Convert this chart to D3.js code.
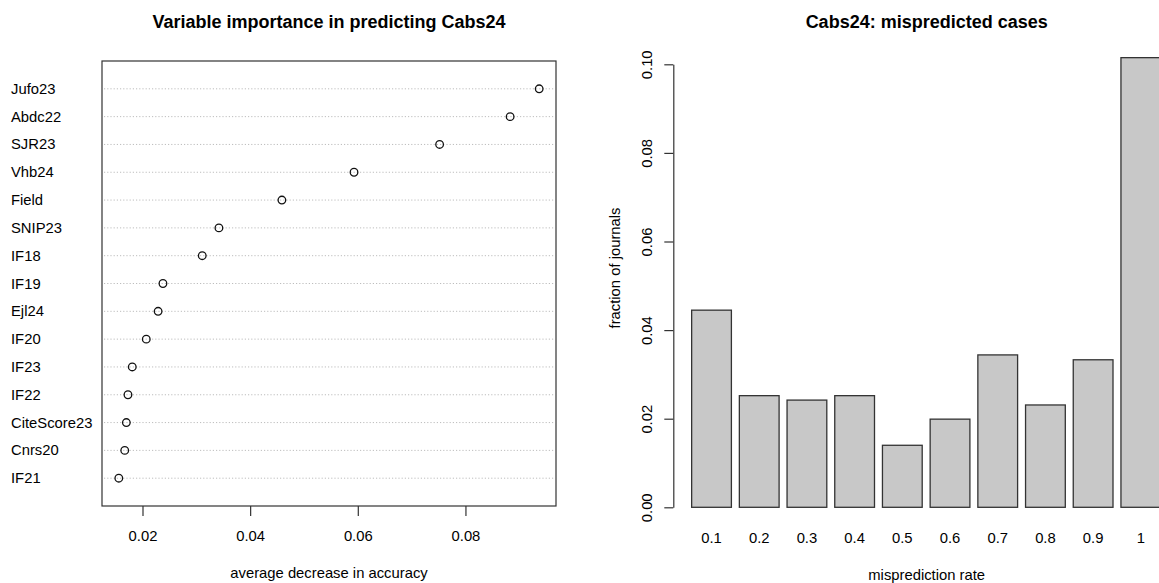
<!DOCTYPE html>
<html>
<head>
<meta charset="utf-8">
<script src="https://cdn.jsdelivr.net/npm/d3@7"></script>
<style>
  body { margin: 0; background: #fff; }
  svg { display: block; font-family: 'Liberation Sans', Arial, sans-serif; }
</style>
</head>
<body>
<div></div>
<script>
// left panel: variable importance
const variables = ['Jufo23', 'Abdc22', 'SJR23', 'Vhb24', 'Field', 'SNIP23', 'IF18', 'IF19',
  'Ejl24', 'IF20', 'IF23', 'IF22', 'CiteScore23', 'Cnrs20', 'IF21'];
const importance = [0.0937, 0.0883, 0.0752, 0.0593, 0.0459, 0.0342, 0.0311, 0.0238,
  0.0229, 0.0207, 0.0181, 0.0173, 0.0170, 0.0167, 0.0156];
const importanceTicks = [0.02, 0.04, 0.06, 0.08];

// right panel: mispredicted cases
const rates = ['0.1', '0.2', '0.3', '0.4', '0.5', '0.6', '0.7', '0.8', '0.9', '1'];
const fractions = [0.0445, 0.0252, 0.0242, 0.0252, 0.0140, 0.0199, 0.0344, 0.0231, 0.0333, 0.1015];
const fractionTicks = [0, 0.02, 0.04, 0.06, 0.08, 0.10];

const w = 1159;
const h = 583;
const fs = 14.8;

const svg = d3.select('body').select('div')
  .append('svg')
  .attr('width', w)
  .attr('height', h);

// ---- left: dotchart ----

const box = { left: 102, right: 556, top: 61, bottom: 506 };

const lo = d3.min(importance);
const hi = d3.max(importance);
const ext = (hi - lo) * 0.04;

const xL = d3.scaleLinear()
  .domain([lo - ext, hi + ext])
  .range([box.left, box.right]);

const yL = d3.scaleLinear()
  .domain([0, variables.length + 1])
  .range([box.bottom, box.top]);

const rowY = (i) => yL(variables.length - i);

svg.append('g')
  .selectAll('line')
  .data(variables)
  .enter()
  .append('line')
  .attr('x1', box.left + 2)
  .attr('x2', box.right - 2)
  .attr('y1', (d, i) => rowY(i))
  .attr('y2', (d, i) => rowY(i))
  .attr('stroke', '#bdbdbd')
  .attr('stroke-width', 1)
  .attr('stroke-dasharray', '1.2,2');

svg.append('rect')
  .attr('x', box.left)
  .attr('y', box.top)
  .attr('width', box.right - box.left)
  .attr('height', box.bottom - box.top)
  .attr('fill', 'none')
  .attr('stroke', '#333')
  .attr('stroke-width', 1.2);

svg.append('g')
  .selectAll('text')
  .data(variables)
  .enter()
  .append('text')
  .attr('x', 11)
  .attr('y', (d, i) => rowY(i) + 5)
  .attr('font-size', fs)
  .text((d) => d);

svg.append('g')
  .selectAll('circle')
  .data(importance)
  .enter()
  .append('circle')
  .attr('cx', (d) => xL(d))
  .attr('cy', (d, i) => rowY(i))
  .attr('r', 3.8)
  .attr('fill', 'none')
  .attr('stroke', '#111')
  .attr('stroke-width', 1.3);

const xAxisL = d3.axisBottom(xL)
  .tickValues(importanceTicks)
  .tickFormat(d3.format('.2f'))
  .tickSize(10)
  .tickPadding(14);

const gxL = svg.append('g')
  .attr('transform', 'translate(0,' + box.bottom + ')')
  .call(xAxisL);
gxL.select('.domain').remove();
gxL.selectAll('line').attr('stroke', '#333').attr('stroke-width', 1.2);
gxL.selectAll('text')
  .attr('font-size', fs)
  .attr('font-family', 'Liberation Sans, Arial, sans-serif')
  .attr('fill', '#000');

svg.append('text')
  .attr('x', (box.left + box.right) / 2)
  .attr('y', 578)
  .attr('text-anchor', 'middle')
  .attr('font-size', fs)
  .text('average decrease in accuracy');

svg.append('text')
  .attr('x', (box.left + box.right) / 2)
  .attr('y', 28)
  .attr('text-anchor', 'middle')
  .attr('font-size', 18)
  .attr('font-weight', 'bold')
  .text('Variable importance in predicting Cabs24');

// ---- right: barplot ----

const axisX = 673.3;

const yR = d3.scaleLinear()
  .domain([0, 0.1])
  .range([507.3, 64.3]);

const xR = d3.scaleBand()
  .domain(rates)
  .range([683.7, 1160.7])
  .paddingInner(1 / 6)
  .paddingOuter(1 / 12)
  .align(1);

svg.append('g')
  .selectAll('rect')
  .data(fractions)
  .enter()
  .append('rect')
  .attr('x', (d, i) => xR(rates[i]))
  .attr('y', (d) => yR(d))
  .attr('width', xR.bandwidth())
  .attr('height', (d) => yR(0) - yR(d))
  .attr('fill', '#c8c8c8')
  .attr('stroke', '#333')
  .attr('stroke-width', 1.3);

const yAxisR = d3.axisLeft(yR)
  .tickValues(fractionTicks)
  .tickFormat(d3.format('.2f'))
  .tickSize(9)
  .tickSizeOuter(0);

const gyR = svg.append('g')
  .attr('transform', 'translate(' + axisX + ',0)')
  .call(yAxisR);
gyR.select('.domain').attr('stroke', '#333').attr('stroke-width', 1.2);
gyR.selectAll('line').attr('stroke', '#333').attr('stroke-width', 1.2);
gyR.selectAll('text')
  .attr('font-size', fs)
  .attr('font-family', 'Liberation Sans, Arial, sans-serif')
  .attr('fill', '#000')
  .attr('text-anchor', 'middle')
  .attr('dy', null)
  .attr('x', null)
  .attr('transform', 'translate(' + (652 - axisX) + ',0) rotate(-90)');

svg.append('g')
  .selectAll('text')
  .data(rates)
  .enter()
  .append('text')
  .attr('x', (d) => xR(d) + xR.bandwidth() / 2)
  .attr('y', 543)
  .attr('text-anchor', 'middle')
  .attr('font-size', fs)
  .text((d) => d);

svg.append('text')
  .attr('transform', 'translate(620,268) rotate(-90)')
  .attr('text-anchor', 'middle')
  .attr('font-size', fs)
  .text('fraction of journals');

svg.append('text')
  .attr('x', 926.7)
  .attr('y', 580)
  .attr('text-anchor', 'middle')
  .attr('font-size', fs)
  .text('misprediction rate');

svg.append('text')
  .attr('x', 926.7)
  .attr('y', 28)
  .attr('text-anchor', 'middle')
  .attr('font-size', 18)
  .attr('font-weight', 'bold')
  .text('Cabs24: mispredicted cases');
</script>
</body>
</html>
